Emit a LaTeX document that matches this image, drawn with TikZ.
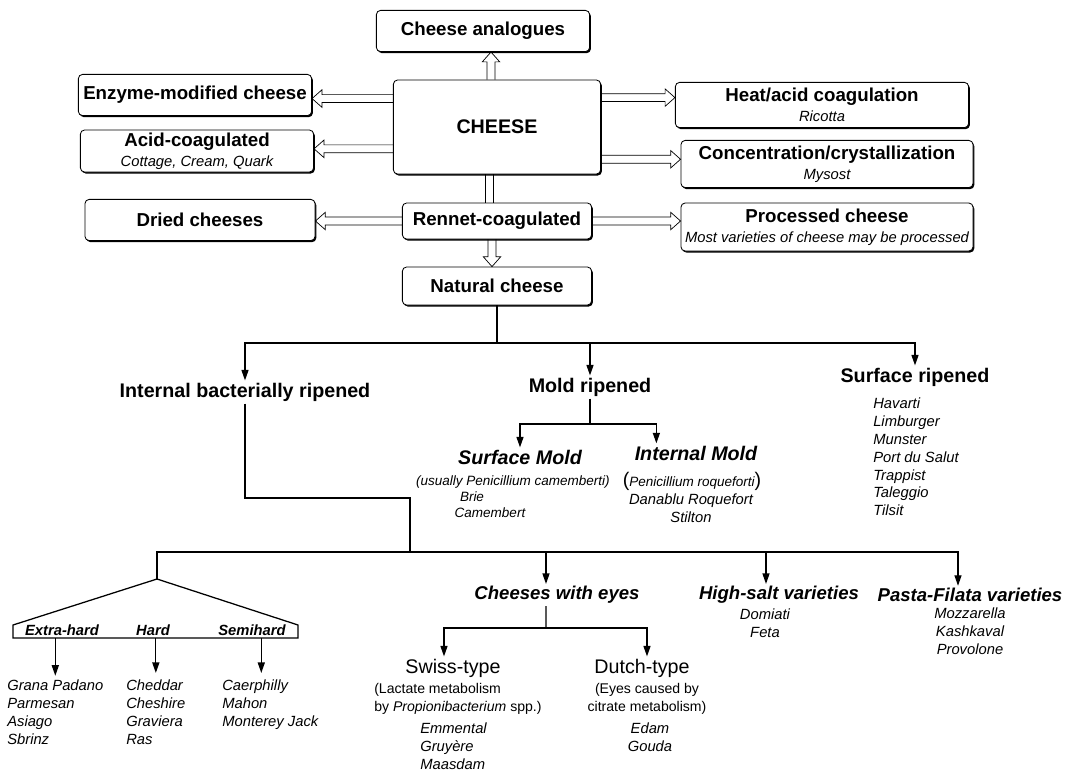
\documentclass[tikz,border=0pt]{standalone}
\usepackage{fontspec}
\setmainfont{Liberation Sans}
\usetikzlibrary{arrows.meta,calc,shadows}

\newcommand{\boxttl}{\fontsize{13.3}{15}\selectfont\bfseries}
\newcommand{\boxsub}{\fontsize{10.5}{12}\selectfont\itshape}
\newcommand{\bigpar}[1]{{\fontsize{14}{14}\selectfont\upshape #1}}

\tikzset{
	box/.style={draw, line width=0.6pt, rounded corners=3pt, fill=white, inner sep=0pt,
		align=center, font=\fontsize{12}{14.5}\selectfont,
		drop shadow={shadow xshift=0.9pt, shadow yshift=-1.1pt, opacity=1, fill=black}},
	head/.style={inner sep=1.5pt, font=\fontsize{14}{16}\selectfont\bfseries},
	mould/.style={inner sep=1.5pt, font=\fontsize{14}{16}\selectfont\bfseries\itshape},
	grp/.style={inner sep=1.5pt, font=\fontsize{13.2}{15}\selectfont\bfseries\itshape},
	band/.style={inner sep=0pt, font=\fontsize{10.5}{12}\selectfont\bfseries\itshape},
	kind/.style={inner sep=1.5pt, font=\fontsize{14}{16}\selectfont},
	why/.style={inner sep=0pt, align=left, font=\fontsize{10}{12.8}\selectfont},
	lst/.style={inner sep=0pt, align=left, font=\fontsize{10.5}{12.65}\selectfont\itshape},
	note/.style={inner sep=0pt, font=\fontsize{9.6}{11}\selectfont\itshape},
	link/.style={line width=0.9pt},
	hollow/.style={line width=0.5pt, to path={
		let \p1=(\tikztostart), \p2=(\tikztotarget),
		\n1={atan2(\y2-\y1,\x2-\x1)}, \n2={veclen(\x2-\x1,\y2-\y1)} in
		[shift={(\p1)}, rotate=\n1]
		(0pt,2.8pt) -- ({\n2*1pt-7pt},2.8pt) -- ({\n2*1pt-7pt},6.2pt) -- ({\n2*1pt},0pt)
		-- ({\n2*1pt-7pt},-6.2pt) -- ({\n2*1pt-7pt},-2.8pt) -- (0pt,-2.8pt)}},
	twin/.style={line width=0.5pt, to path={
		let \p1=(\tikztostart), \p2=(\tikztotarget),
		\n1={atan2(\y2-\y1,\x2-\x1)}, \n2={veclen(\x2-\x1,\y2-\y1)} in
		[shift={(\p1)}, rotate=\n1]
		(0pt,2.8pt) -- ({\n2*1pt},2.8pt) (0pt,-2.8pt) -- ({\n2*1pt},-2.8pt)}},
	>={Triangle[length=7.5pt,width=5pt]}
}

\begin{document}
\begin{tikzpicture}[x=0.025cm, y=-0.025cm]

\useasboundingbox (0,0) rectangle (1073,771);
\clip (0,0) rectangle (1073,771);

% ------------------------------------------------------ boxes

\node[box, minimum width=5.18cm, minimum height=2.35cm] (cheese) at (497,127)
	{\fontsize{14}{16}\selectfont\bfseries CHEESE};
\node[box, minimum width=5.33cm, minimum height=1.03cm] (ana) at (483,31)
	{\boxttl Cheese analogues};
\node[box, minimum width=5.83cm, minimum height=1.03cm] (enz) at (195,95)
	{\boxttl Enzyme-modified cheese};
\node[box, minimum width=5.83cm, minimum height=1.05cm] (acid) at (197,151)
	{{\boxttl Acid-coagulated}\\{\boxsub Cottage, Cream, Quark}};
\node[box, minimum width=5.75cm, minimum height=1.03cm] (dried) at (200,220)
	{\boxttl Dried cheeses};
\node[box, minimum width=4.73cm, minimum height=0.9cm] (rennet) at (497,221)
	{\boxttl Rennet-coagulated};
\node[box, minimum width=4.73cm, minimum height=0.95cm] (natural) at (497,286)
	{\boxttl Natural cheese};
\node[box, minimum width=7.33cm, minimum height=1.13cm] (heat) at (822,105)
	{{\boxttl Heat/acid coagulation}\\{\boxsub Ricotta}};
\node[box, minimum width=7.3cm, minimum height=1.18cm] (conc) at (827,164)
	{{\boxttl Concentration/crystallization}\\{\boxsub Mysost}};
\node[box, minimum width=7.3cm, minimum height=1.2cm] (proc) at (827,227)
	{{\boxttl Processed cheese}\\{\boxsub Most varieties of cheese may be processed}};

\coordinate (cl1) at ($(cheese.north west)!0.2!(cheese.south west)$);
\coordinate (cl2) at ($(cheese.north west)!0.73!(cheese.south west)$);
\coordinate (cr1) at ($(cheese.north east)!0.19!(cheese.south east)$);
\coordinate (cr2) at ($(cheese.north east)!0.84!(cheese.south east)$);

\draw[hollow] ([xshift=-0.15cm]cheese.north) to ([xshift=-0.15cm]cheese.north |- ana.south);
\draw[hollow] (cl1) to (cl1 -| enz.east);
\draw[hollow] (cl2) to (cl2 -| acid.east);
\draw[hollow] (cr1) to (cr1 -| heat.west);
\draw[hollow] (cr2) to (cr2 -| conc.west);
\draw[twin] ([xshift=-0.2cm]cheese.south) to ([xshift=-0.2cm]cheese.south |- rennet.north);
\draw[hollow] (rennet.west) to (rennet.west -| dried.east);
\draw[hollow] (rennet.east) to (rennet.east -| proc.west);
\draw[hollow] ([xshift=-0.125cm]rennet.south) to ([xshift=-0.125cm]rennet.south |- natural.north);

% ------------------------------------------------------ ripening

\node[head] (ibr) at (245,392) {Internal bacterially ripened};
\node[head] (mold) at (590,387) {Mold ripened};
\node[head] (surf) at (915,377) {Surface ripened};

\node[lst, anchor=north west] (surflst) at (873,398)
	{Havarti\\Limburger\\Munster\\Port du Salut\\Trappist\\Taleggio\\Tilsit};

\coordinate (top) at (497,343);
\draw[link] (natural.south) -- (top);
\draw[link, ->] (top) -| (ibr.north);
\draw[link, ->] (top) -| (surf.north);
\draw[link, ->] (top -| mold.north) -- (mold.north);

\node[mould] (smold) at (520,457) {Surface Mold};
\node[mould] (imold) at (696,453) {Internal Mold};

\coordinate (msplit) at (590,424);
\draw[link] (mold.south) -- (msplit);
\draw[link, ->] (msplit) -| (smold.north);
\draw[link, ->] (msplit) -| ([xshift=0.6cm]imold.north west);

\node[note] (smnote) at (513,482) {(usually Penicillium camemberti)};
\node[note] (brie) at (472,497) {Brie};
\node[note] (camb) at (490,513) {Camembert};

\node[note] (imnote) at (692,481) {\bigpar{(}Penicillium roqueforti\bigpar{)}};
\node[lst, anchor=north, align=center] (imlst) at (691,494) {Danablu Roquefort\\Stilton};

% ------------------------------------------------------ internal bacterially ripened

\coordinate (bend) at (410,498);
\coordinate (mid) at (410,552);
\coordinate (apex) at (157,579);
\draw[link] (ibr.south) |- (bend) -- (mid);
\draw[link] (apex) |- (mid);

\draw[link] (apex) -- (13,625) -- (13,638) -- (298,638) -- (298,625) -- cycle;
\coordinate (base) at (0,638);

\node[band] (xh) at (62,630) {Extra-hard};
\node[band] (hd) at (153,630) {Hard};
\node[band] (sh) at (252,630) {Semihard};

\node[lst, anchor=north west] (xhl) at (7,680) {Grana Padano\\Parmesan\\Asiago\\Sbrinz};
\node[lst, anchor=north west] (hdl) at (126,680) {Cheddar\\Cheshire\\Graviera\\Ras};
\node[lst, anchor=north west] (shl) at (222,680) {Caerphilly\\Mahon\\Monterey Jack};

\draw[link, ->, shorten >=3pt] (xhl.north |- base) -- (xhl.north);
\draw[link, ->, shorten >=5pt] (hdl.north |- base) -- (hdl.north);
\draw[link, ->, shorten >=5pt] ([xshift=-0.225cm]shl.north |- base) -- ([xshift=-0.225cm]shl.north);

\node[grp] (eyes) at (557,595) {Cheeses with eyes};
\node[grp] (salt) at (779,595) {High-salt varieties};
\node[grp] (pasta) at (970,595) {Pasta-Filata varieties};

\draw[link, ->] (mid) -| ([xshift=-0.275cm]eyes.north);
\draw[link, ->] (mid) -| ([xshift=-0.325cm]salt.north);
\draw[link, ->] (mid) -| ([xshift=-0.3cm]pasta.north);

\node[lst, anchor=north, align=center] (saltl) at (765,609) {Domiati\\Feta};
\node[lst, anchor=north, align=center] (pastal) at (970,608) {Mozzarella\\Kashkaval\\Provolone};

% ------------------------------------------------------ eyes

\node[kind] (swiss) at (453,668) {Swiss-type};
\node[kind] (dutch) at (642,668) {Dutch-type};

\coordinate (esplit) at (546,628);
\draw[link] ([xshift=-0.275cm]eyes.south) -- (esplit);
\draw[link, ->] (esplit) -| ([xshift=-0.225cm]swiss.north);
\draw[link, ->] (esplit) -| ([xshift=0.125cm]dutch.north);

\node[why, anchor=north west] (swissn) at (374,683)
	{(Lactate metabolism\\by \textit{Propionibacterium} spp.)};
\node[why, anchor=north, align=center] (dutchn) at (647,683)
	{(Eyes caused by\\citrate metabolism)};

\node[lst, anchor=north west] (swissl) at (420,723) {Emmental\\Gruyère\\Maasdam};
\node[lst, anchor=north, align=center] (dutchl) at (650,723) {Edam\\Gouda};

\end{tikzpicture}
\end{document}
